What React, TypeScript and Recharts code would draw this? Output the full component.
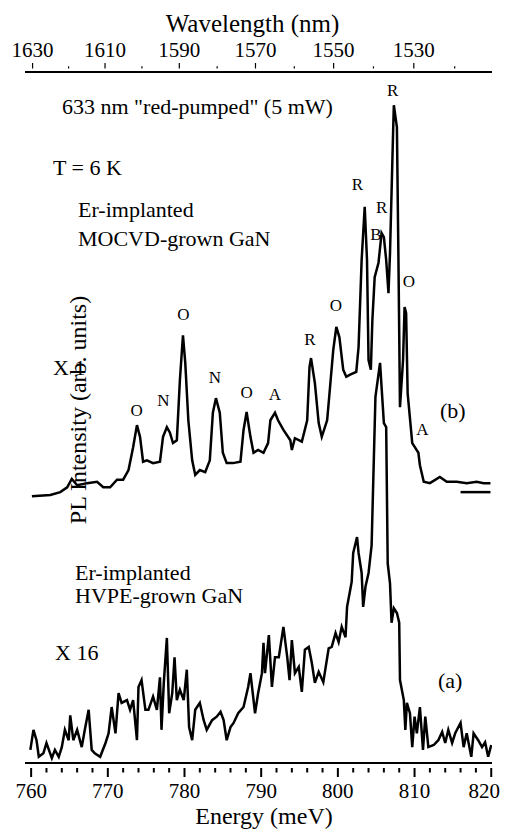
import React from 'react';
import { ComposedChart, Line, XAxis, YAxis } from 'recharts';

const SERIF = '"Liberation Serif", "Times New Roman", serif';
const HC = 1239840; // meV * nm

// Energy axis (meV)
const energyMajorTicks = [760, 770, 780, 790, 800, 810, 820];
const energyMinorStep = 2;
// Wavelength axis (nm), every 10 nm; labelled every 20 nm
const wavelengthTicks = [1630, 1620, 1610, 1600, 1590, 1580, 1570, 1560, 1550, 1540, 1530, 1520];

// Spectrum (b): Er-implanted MOCVD-grown GaN, x1  [energy meV, intensity a.u.]
const mocvdSpectrum: [number, number][] = [
  [760.1, 38.6], [762.5, 38.8], [763.8, 39.2], [764.7, 39.9], [765.3, 41.1], [766.0, 40.2], [767.3, 40.5],
  [768.6, 40.7], [769.4, 39.9], [770.3, 39.9], [771.2, 41.0], [772.0, 41.0], [772.7, 42.4], [773.3, 45.7],
  [773.8, 48.9], [774.2, 47.2], [774.6, 43.6], [775.1, 43.8], [775.9, 43.4], [776.8, 43.6], [777.2, 47.2],
  [777.7, 48.6], [778.1, 47.8], [778.5, 46.3], [779.0, 46.7], [779.4, 55.4], [779.8, 61.9], [780.1, 57.9],
  [780.5, 49.6], [781.0, 43.8], [781.4, 41.7], [782.0, 42.4], [782.7, 42.1], [783.3, 43.8], [783.7, 50.7],
  [784.1, 52.8], [784.6, 50.7], [785.0, 44.9], [785.5, 43.4], [786.3, 43.4], [787.3, 43.6], [787.7, 48.2],
  [788.1, 50.8], [788.6, 47.2], [789.0, 44.9], [789.6, 45.3], [790.3, 44.9], [790.9, 46.3], [791.2, 49.6],
  [791.8, 50.7], [792.2, 49.6], [792.9, 48.2], [793.8, 46.7], [794.0, 45.3], [794.4, 47.0], [795.3, 46.5],
  [796.0, 49.6], [796.3, 57.3], [796.5, 58.6], [797.0, 55.0], [797.5, 49.2], [797.9, 47.2], [798.6, 49.6],
  [798.8, 52.1], [799.4, 59.8], [799.8, 63.1], [800.2, 61.6], [800.7, 56.9], [801.1, 55.9], [801.6, 56.2],
  [802.4, 56.6], [802.7, 60.2], [803.1, 72.8], [803.5, 80.5], [803.8, 72.8], [804.0, 58.3], [804.3, 56.9],
  [804.5, 64.1], [804.8, 70.3], [805.3, 72.4], [805.7, 76.7], [806.0, 76.1], [806.3, 72.8], [806.6, 68.0],
  [806.8, 73.8], [807.2, 91.2], [807.3, 95.2], [807.7, 92.0], [807.9, 72.8], [808.1, 51.5], [808.5, 58.3],
  [808.7, 66.0], [808.9, 65.1], [809.1, 53.5], [809.7, 46.3], [810.1, 45.6], [810.5, 44.9], [810.7, 43.1],
  [811.2, 40.7], [812.0, 40.5], [813.3, 41.4], [814.2, 40.7], [815.5, 40.7], [816.8, 40.5], [818.1, 40.7],
  [819.0, 40.5], [819.9, 40.5],
];

// short baseline marker at the right end of spectrum (b)
const mocvdBaseline: [number, number][] = [[816.0, 39.2], [819.9, 39.2]];

// Spectrum (a): Er-implanted HVPE-grown GaN, x16
const hvpeSpectrum: [number, number][] = [
  [759.9, 1.9], [760.3, 4.8], [760.7, 3.3], [761.0, 0.9], [761.6, 1.4], [762.0, 2.9], [762.7, 0.7],
  [763.1, 1.9], [763.6, 0.9], [764.0, 2.3], [764.4, 4.8], [764.9, 3.3], [765.1, 6.9], [765.5, 3.3],
  [766.0, 4.8], [766.6, 2.3], [767.0, 4.8], [767.5, 7.7], [767.9, 1.9], [768.3, 1.4], [769.0, 0.9],
  [769.7, 2.9], [770.1, 4.3], [770.5, 8.1], [771.0, 4.3], [771.4, 10.1], [771.8, 8.7], [772.5, 9.1],
  [772.9, 7.7], [773.3, 9.1], [773.8, 3.3], [774.0, 11.0], [774.4, 12.0], [774.9, 7.7], [775.3, 7.7],
  [775.9, 9.6], [776.4, 7.7], [776.8, 12.4], [777.0, 4.8], [777.3, 11.6], [777.7, 18.1], [778.0, 7.2],
  [778.4, 10.1], [778.7, 15.3], [779.0, 9.1], [779.4, 10.6], [779.9, 9.1], [780.3, 13.5], [780.6, 5.2],
  [781.0, 3.3], [781.4, 7.7], [782.0, 8.7], [782.5, 6.2], [782.9, 4.8], [783.6, 6.2], [784.2, 6.7],
  [784.7, 7.4], [785.1, 6.2], [785.5, 3.3], [786.0, 5.2], [786.4, 5.8], [787.0, 7.2], [787.7, 8.1],
  [788.3, 11.0], [788.6, 13.0], [789.2, 7.2], [789.6, 10.1], [790.1, 13.0], [790.3, 17.4], [790.5, 13.0],
  [791.0, 18.5], [791.4, 11.0], [791.8, 15.3], [792.3, 15.3], [792.9, 19.7], [793.4, 15.3], [793.7, 12.0],
  [794.0, 17.8], [794.4, 13.0], [794.9, 13.9], [795.3, 10.3], [795.7, 16.4], [796.2, 16.8], [796.6, 14.5],
  [797.0, 11.6], [797.5, 13.2], [798.1, 11.7], [798.8, 16.6], [799.2, 16.8], [799.7, 18.8], [800.1, 17.5],
  [800.5, 19.7], [801.0, 18.2], [801.2, 22.6], [801.6, 25.0], [801.8, 26.2], [802.0, 30.4], [802.5, 32.7],
  [802.7, 30.4], [803.1, 27.5], [803.3, 22.6], [803.6, 25.5], [804.0, 27.5], [804.4, 31.5], [804.9, 53.0],
  [805.5, 57.9], [806.0, 49.2], [806.3, 48.6], [806.5, 28.9], [806.8, 26.0], [807.0, 20.3], [807.3, 22.4],
  [807.7, 21.7], [808.0, 20.3], [808.1, 12.0], [808.6, 9.1], [808.8, 4.8], [809.0, 8.7], [809.4, 7.2],
  [809.7, 2.3], [810.0, 6.7], [810.3, 4.3], [810.7, 8.1], [811.1, 1.9], [811.4, 6.7], [811.8, 2.3],
  [812.5, 2.6], [813.1, 3.3], [813.6, 4.5], [814.0, 2.9], [814.4, 4.8], [814.9, 2.9], [815.3, 4.3],
  [816.0, 5.8], [816.4, 2.3], [816.8, 4.3], [817.4, 0.9], [817.7, 4.3], [818.3, 3.3], [818.8, 2.3],
  [819.2, 3.0], [819.6, 0.9], [820.0, 2.6],
];

const toRows = (pts: [number, number][]) => pts.map(([e, i]) => ({ e, i }));
const mocvdData = toRows(mocvdSpectrum);
const mocvdBaseData = toRows(mocvdBaseline);
const hvpeData = toRows(hvpeSpectrum);

const energyTicks: number[] = [];
for (let v = energyMajorTicks[0]; v <= energyMajorTicks[energyMajorTicks.length - 1]; v += energyMinorStep) energyTicks.push(v);
const wavelengthTickEnergies = wavelengthTicks.map((l) => HC / l);

const W = 501;
const H = 824;

// Liberation Serif metrics (em): ascent 0.891, descent 0.216
const ASC = 0.891;
const CONTENT = 1.107;
const baselineOffset = (size: number, lh: number) => (lh - CONTENT * size) / 2 + ASC * size;

const TICK_SIZE = 21;
const TICK_LH = 16;

// HTML text inside an SVG tick; `baseline` is the wanted baseline y
const TickLabel = ({ x, baseline, text }: { x: number; baseline: number; text: string | number }) => (
  <foreignObject x={x - 30} y={baseline - baselineOffset(TICK_SIZE, TICK_LH)} width={60} height={TICK_LH} style={{ overflow: 'visible' }}>
    <div style={{ width: 60, height: TICK_LH, textAlign: 'center', fontFamily: SERIF, fontSize: TICK_SIZE, lineHeight: `${TICK_LH}px`, color: '#000', whiteSpace: 'nowrap' }}>
      {text}
    </div>
  </foreignObject>
);

const BottomTick = (props: any) => {
  const { x, y, payload } = props;
  const v = payload.value as number;
  const major = energyMajorTicks.includes(Math.round(v)) && Math.abs(v - Math.round(v)) < 1e-6;
  const last = v === energyMajorTicks[energyMajorTicks.length - 1];
  return (
    <g>
      <line x1={x} x2={x} y1={y + 5} y2={y + (major ? 14 : 9.5)} stroke="#000" strokeWidth={2} />
      {major && <TickLabel x={last ? x - 7 : x} baseline={y + 35} text={v} />}
    </g>
  );
};

const TopTick = (props: any) => {
  const { x, y, payload } = props;
  const lambda = Math.round(HC / (payload.value as number));
  const major = lambda % 20 === 10;
  return (
    <g>
      <line x1={x} x2={x} y1={y - (major ? 9 : 5.7)} y2={y - 3.5} stroke="#000" strokeWidth={1.2} />
      {major && <TickLabel x={x} baseline={y - 14.7} text={lambda} />}
    </g>
  );
};

const frame = { stroke: '#000', strokeWidth: 2 };

// HTML annotation; x,y are page coordinates of the start (or centre) and the baseline
const HT = ({ x, y, size, children, center, lh }: { x: number; y: number; size: number; children: React.ReactNode; center?: boolean; lh?: number }) => {
  const lineH = lh ?? Math.round(size * 1.15);
  const top = y - baselineOffset(size, lineH) - 8;
  const style: React.CSSProperties = {
    position: 'absolute',
    top,
    left: center ? x - 8 - 200 : x - 8,
    width: center ? 400 : undefined,
    height: lineH,
    textAlign: center ? 'center' : 'left',
    fontFamily: SERIF,
    fontSize: size,
    lineHeight: `${lineH}px`,
    whiteSpace: 'nowrap',
    color: '#000',
    pointerEvents: 'none',
  };
  return <div style={style}>{center ? <span>{children}</span> : children}</div>;
};

export default function App() {
  const ySize = 24;
  const yLh = 24;
  // rotated label: baseline at page x = 86, centred on page y = 410
  const yCenterX = 86 - (baselineOffset(ySize, yLh) - yLh / 2);
  return (
    <div style={{ position: 'relative', width: W, height: H, fontFamily: SERIF }}>
      <ComposedChart width={W} height={H} margin={{ top: 0, right: 17, bottom: 0, left: 17 }}>
        <XAxis
          xAxisId="bottom"
          orientation="bottom"
          type="number"
          dataKey="e"
          domain={[759.2, 820.1]}
          allowDataOverflow
          ticks={energyTicks}
          interval={0}
          tickSize={0}
          tickMargin={0}
          tickLine={false}
          axisLine={frame}
          tick={(p: any) => <BottomTick {...p} />}
          height={69}
        />
        <XAxis
          xAxisId="top"
          orientation="top"
          type="number"
          dataKey="e"
          domain={[759.65, 820.55]}
          allowDataOverflow
          ticks={wavelengthTickEnergies}
          interval={0}
          tickSize={0}
          tickMargin={0}
          tickLine={false}
          axisLine={frame}
          tick={(p: any) => <TopTick {...p} />}
          height={64}
        />
        <YAxis yAxisId="left" type="number" domain={[0, 100]} allowDataOverflow width={0} tick={false} tickLine={false} axisLine={frame} />
        <YAxis yAxisId="right" orientation="right" type="number" domain={[0, 100]} allowDataOverflow width={0} tick={false} tickLine={false} axisLine={frame} />
        <Line xAxisId="bottom" yAxisId="left" data={hvpeData} dataKey="i" type="linear" stroke="#000" strokeWidth={2.5} dot={false} activeDot={false} isAnimationActive={false} />
        <Line xAxisId="bottom" yAxisId="left" data={mocvdData} dataKey="i" type="linear" stroke="#000" strokeWidth={2.5} dot={false} activeDot={false} isAnimationActive={false} />
        <Line xAxisId="bottom" yAxisId="left" data={mocvdBaseData} dataKey="i" type="linear" stroke="#000" strokeWidth={2.5} dot={false} activeDot={false} isAnimationActive={false} />
      </ComposedChart>

      <HT x={252.5} y={32} size={25} center lh={20}>Wavelength (nm)</HT>
      <HT x={264} y={824} size={24} center lh={18}>Energy (meV)</HT>
      <div
        style={{
          position: 'absolute',
          left: yCenterX - 8 - 150,
          top: 410 - 8 - yLh / 2,
          width: 300,
          height: yLh,
          lineHeight: `${yLh}px`,
          textAlign: 'center',
          fontFamily: SERIF,
          fontSize: ySize,
          whiteSpace: 'nowrap',
          color: '#000',
          transform: 'rotate(-90deg)',
          transformOrigin: '50% 50%',
          pointerEvents: 'none',
        }}
      >
        PL Intensity (arb. units)
      </div>
      <HT x={62} y={114} size={22}>633 nm "red-pumped" (5 mW)</HT>
      <HT x={53} y={175} size={22}>T = 6 K</HT>
      <HT x={78} y={217} size={22}>Er-implanted</HT>
      <HT x={78} y={246} size={22}>MOCVD-grown GaN</HT>
      <HT x={75} y={580} size={22}>Er-implanted</HT>
      <HT x={75} y={603} size={22}>HVPE-grown GaN</HT>
      <HT x={55} y={660} size={22}>X 16</HT>
      <HT x={53} y={375} size={22}>X 1</HT>
      <HT x={440} y={418} size={22}>(b)</HT>
      <HT x={438} y={688} size={22}>(a)</HT>
      <HT x={136.7} y={417} size={17} center>O</HT>
      <HT x={163.3} y={407} size={17} center>N</HT>
      <HT x={183.3} y={320.5} size={17} center>O</HT>
      <HT x={215} y={383.5} size={17} center>N</HT>
      <HT x={246.7} y={398.5} size={17} center>O</HT>
      <HT x={275} y={400.5} size={17} center>A</HT>
      <HT x={310} y={345.5} size={17} center>R</HT>
      <HT x={336} y={312} size={17} center>O</HT>
      <HT x={357.3} y={190.5} size={17} center>R</HT>
      <HT x={381.7} y={214} size={17} center>R</HT>
      <HT x={375.8} y={240.5} size={17} center>B</HT>
      <HT x={392.7} y={97} size={17} center>R</HT>
      <HT x={409} y={288} size={17} center>O</HT>
      <HT x={422.3} y={436} size={17} center>A</HT>
    </div>
  );
}
